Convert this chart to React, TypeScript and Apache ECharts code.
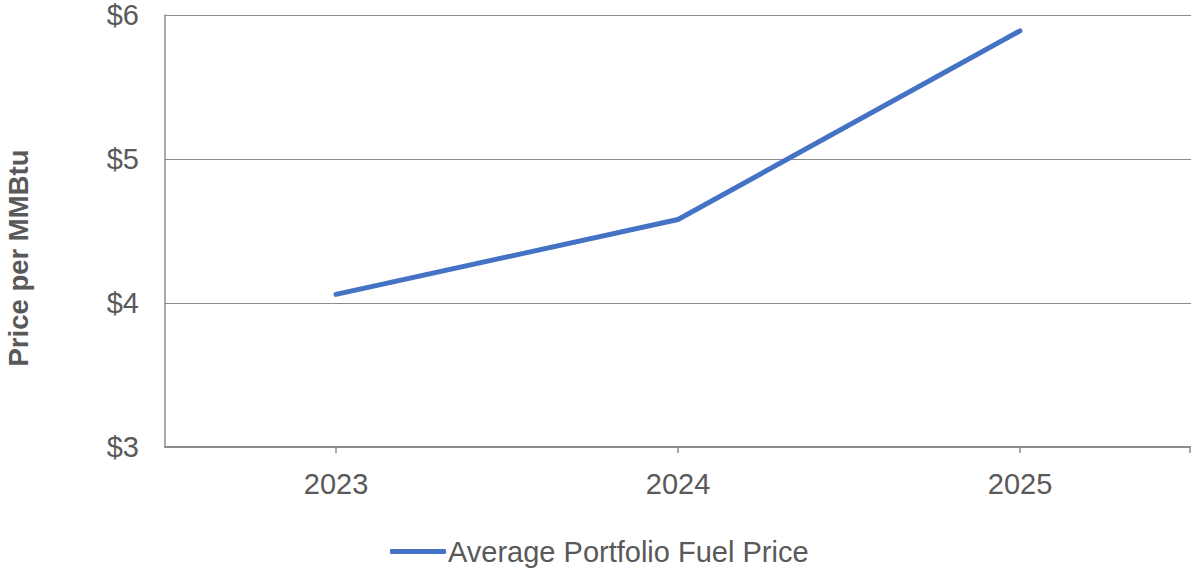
import React, { useEffect, useRef } from "react";
import * as echarts from "echarts";

const categories = ["2023", "2024", "2025"];
const fuelPrice = [4.06, 4.58, 5.89];
const seriesName = "Average Portfolio Fuel Price";
const yTitle = "Price per MMBtu";

export default function App() {
  const ref = useRef<HTMLDivElement>(null);
  useEffect(() => {
    const chart = echarts.init(ref.current!, undefined, { renderer: "svg" });
    const font = "'Liberation Sans', Arial, sans-serif";
    chart.setOption({
      animation: false,
      textStyle: { fontFamily: font },
      grid: { left: 165, right: 0, top: 15, bottom: 126, containLabel: false },
      legend: {
        data: [seriesName],
        top: 532,
        left: 385,
        icon: "roundRect",
        itemWidth: 56,
        itemHeight: 5,
        textStyle: { fontSize: 29, color: "#595959", fontFamily: font, padding: [0, 0, 0, -3] },
      },
      graphic: [
        {
          type: "text",
          x: 18,
          y: 258,
          rotation: Math.PI / 2,
          style: {
            text: yTitle,
            fontSize: 27.5,
            fontWeight: "bold",
            fill: "#595959",
            fontFamily: font,
            align: "center",
            verticalAlign: "middle",
          },
        },
        {
          type: "line",
          shape: { x1: 1190, y1: 447, x2: 1190, y2: 453 },
          style: { stroke: "#8c8c8c", lineWidth: 1.5 },
        },
      ],
      xAxis: {
        type: "category",
        data: categories,
        boundaryGap: true,
        axisLine: { lineStyle: { color: "#8c8c8c", width: 2 } },
        axisTick: { show: true, alignWithLabel: true, length: 6, lineStyle: { color: "#8c8c8c", width: 1.5 } },
        axisLabel: { fontSize: 29, color: "#595959", margin: 22, fontFamily: font },
        splitLine: { show: false },
      },
      yAxis: {
        type: "value",
        min: 3,
        max: 6,
        interval: 1,
        axisLine: { show: true, lineStyle: { color: "#8c8c8c", width: 1.5 } },
        axisTick: { show: false },
        axisLabel: { fontSize: 29, color: "#595959", margin: 26, fontFamily: font, formatter: (v: number) => "$" + v },
        splitLine: { show: true, lineStyle: { color: "#8c8c8c", width: 1 } },
      },
      series: [
        {
          name: seriesName,
          type: "line",
          data: fuelPrice,
          symbol: "none",
          lineStyle: { color: "#4472C4", width: 5, cap: "round", join: "round" },
          itemStyle: { color: "#4472C4" },
        },
      ],
    });
    return () => chart.dispose();
  }, []);
  return (
    <div
      ref={ref}
      style={{ position: "absolute", left: 0, top: 0, width: 1191, height: 573, background: "#fff" }}
    />
  );
}
